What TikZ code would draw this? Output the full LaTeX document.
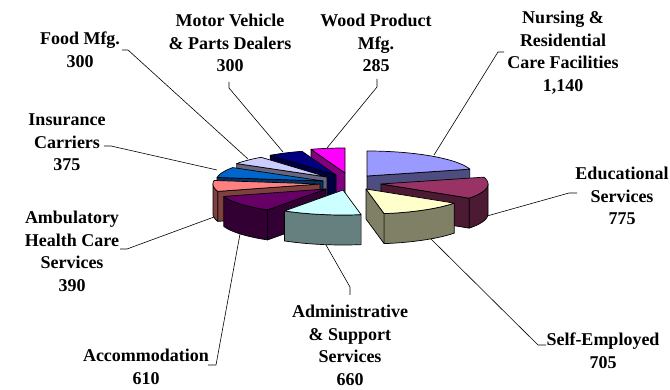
\documentclass[tikz,border=0pt]{standalone}
\usepackage{fontspec}
\setmainfont{Liberation Serif}
\definecolor{nurT}{HTML}{9999FF}\definecolor{nurS}{HTML}{4D4D80}
\definecolor{eduT}{HTML}{993366}\definecolor{eduS}{HTML}{4D1A33}
\definecolor{selT}{HTML}{FFFFCC}\definecolor{selS}{HTML}{808066}
\definecolor{admT}{HTML}{CCFFFF}\definecolor{admS}{HTML}{668080}
\definecolor{accT}{HTML}{660066}\definecolor{accS}{HTML}{330033}
\definecolor{ambT}{HTML}{FF8080}\definecolor{ambS}{HTML}{804040}
\definecolor{insT}{HTML}{0066CC}\definecolor{insS}{HTML}{003366}
\definecolor{fooT}{HTML}{CCCCFF}\definecolor{fooS}{HTML}{666680}
\definecolor{motT}{HTML}{000080}\definecolor{motS}{HTML}{000040}
\definecolor{wooT}{HTML}{FF00FF}\definecolor{wooS}{HTML}{800080}
\newcommand\PieRx{107}
\newcommand\PieRy{25}
\newcommand\PieH{30}
% top face: apex x, apex y, theta1, theta2, colour
\newcommand\PieTop[5]{\filldraw[pieedge, fill=#5] (#1,#2) -- plot[domain=#3:#4, samples=40] ({#1+\PieRx*sin(\x)},{#2-\PieRy*cos(\x)}) -- cycle;}
% outer curved side: apex x, apex y, theta1, theta2, colour
\newcommand\PieSide[5]{\filldraw[pieedge, fill=#5] plot[domain=#3:#4, samples=40] ({#1+\PieRx*sin(\x)},{#2-\PieRy*cos(\x)}) -- plot[domain=#4:#3, samples=40] ({#1+\PieRx*sin(\x)},{#2+\PieH-\PieRy*cos(\x)}) -- cycle;}
% radial cut face: apex x, apex y, theta, colour
\newcommand\PieRad[4]{\filldraw[pieedge, fill=#4] (#1,#2) -- ({#1+\PieRx*sin(#3)},{#2-\PieRy*cos(#3)}) -- ({#1+\PieRx*sin(#3)},{#2+\PieH-\PieRy*cos(#3)}) -- (#1,{#2+\PieH}) -- cycle;}
\begin{document}
\begin{tikzpicture}[x=1pt,y=-1pt,
  pieedge/.style={draw=black, line width=0.7pt, line join=round},
  lbl/.style={font=\bfseries\fontsize{18}{22.5}\selectfont, align=center, inner sep=0pt, anchor=north},
  leader/.style={draw=black, line width=0.6pt}]
\fill[white] (0,0) rectangle (670,390);
\useasboundingbox (0,0) rectangle (670,390);
% ---- left cluster (back to front)
% Wood Product Mfg.
\PieRad{345}{173}{341.48}{wooS}
\PieTop{345}{173}{341.48}{360}{wooT}
% Motor Vehicle
\PieRad{336}{175}{321.99}{motS}
\PieTop{336}{175}{321.99}{341.48}{motT}
% Food Mfg.
\PieRad{327}{177}{302.49}{fooS}
\PieTop{327}{177}{302.49}{321.99}{fooT}
% Insurance
\PieRad{323}{181}{278.12}{insS}
\PieTop{323}{181}{278.12}{302.49}{insT}
% Ambulatory
\PieRad{320}{184}{252.78}{ambS}
\PieSide{320}{184}{252.78}{270}{ambS}
\PieTop{320}{184}{252.78}{278.12}{ambT}
% Accommodation
\PieRad{326}{189}{213.14}{accS}
\PieSide{326}{189}{213.14}{252.78}{accS}
\PieTop{326}{189}{213.14}{252.78}{accT}
% Administrative
\PieSide{343}{190}{170.25}{213.14}{admS}
\PieTop{343}{190}{170.25}{213.14}{admT}
% ---- right cluster
% Nursing
\PieRad{367}{176}{74.08}{nurS}
\PieTop{367}{176}{0}{74.08}{nurT}
% Educational
\PieRad{381}{184}{124.44}{eduS}
\PieSide{381}{184}{90}{124.44}{eduS}
\PieTop{381}{184}{74.08}{124.44}{eduT}
% Self-Employed
\PieRad{366}{189}{170.25}{selS}
\PieSide{366}{189}{124.44}{170.25}{selS}
\PieTop{366}{189}{124.44}{170.25}{selT}
% ---- labels
\node[lbl] (food) at (80,32) {Food Mfg.\\300};
\node[lbl] (motor) at (230,14) {Motor Vehicle\\\& Parts Dealers\\300};
\node[lbl] (wood) at (376,14) {Wood Product\\Mfg.\\285};
\node[lbl] (nursing) at (563,11) {Nursing \&\\Residential\\Care Facilities\\1,140};
\node[lbl] (insurance) at (67,114) {Insurance\\Carriers\\375};
\node[lbl] (educ) at (622,167) {Educational\\Services\\775};
\node[lbl] (ambul) at (72,211) {Ambulatory\\Health Care\\Services\\390};
\node[lbl] (admin) at (350,305) {Administrative\\\& Support\\Services\\660};
\node[lbl] (accom) at (146,349) {Accommodation\\610};
\node[lbl] (selfemp) at (603,333) {Self-Employed\\705};
% ---- leader lines
\coordinate (fooA) at (122,50); \coordinate (fooB) at (128,50); \coordinate (fooC) at (248,159);
\coordinate (motA) at (229,82); \coordinate (motB) at (229,88); \coordinate (motC) at (283,152);
\coordinate (wooA) at (377,79); \coordinate (wooB) at (377,87); \coordinate (wooC) at (327,148);
\coordinate (nurA) at (504,52); \coordinate (nurB) at (498,52); \coordinate (nurC) at (434,155);
\coordinate (insA) at (104,146); \coordinate (insB) at (111,146); \coordinate (insC) at (217,170);
\coordinate (ambA) at (120,249); \coordinate (ambB) at (127,249); \coordinate (ambC) at (214,217);
\coordinate (accA) at (208,365); \coordinate (accB) at (216,365); \coordinate (accC) at (240,234);
\coordinate (admA) at (350,295); \coordinate (admB) at (350,287); \coordinate (admC) at (326,245);
\coordinate (selA) at (546,345); \coordinate (selB) at (538,345); \coordinate (selC) at (431,239);
\coordinate (eduA) at (577,193); \coordinate (eduB) at (569,193); \coordinate (eduC) at (487,216);
\foreach \n in {foo,mot,woo,nur,ins,amb,acc,adm,sel,edu}{
  \draw[leader] (\n A) -- (\n B) -- (\n C);
}
\end{tikzpicture}
\end{document}
